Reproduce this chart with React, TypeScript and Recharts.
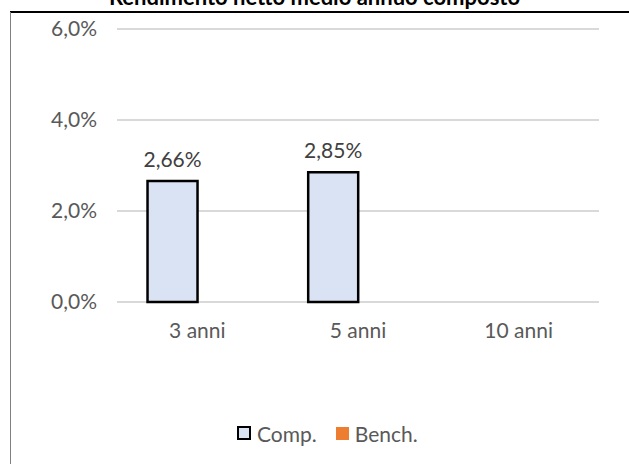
import React from 'react';
import { BarChart, Bar, XAxis, YAxis, CartesianGrid, Legend, LabelList } from 'recharts';

const categories = ['3 anni', '5 anni', '10 anni'];
const compValues = [2.66, 2.85, null];
const benchValues = [null, null, null];
const yTicks = [0, 2, 4, 6];
const seriesOrder = ['comp', 'bench'];

const chartData = categories.map((name, i) => ({
  name,
  comp: compValues[i],
  bench: benchValues[i],
}));

const FONT = 'Lato, "Liberation Sans", sans-serif';
const TEXT = '#595959';

const fmtAxis = (v: number) => `${v.toFixed(1).replace('.', ',')}%`;
const fmtLabel = (v: any) => (v == null ? '' : `${Number(v).toFixed(2).replace('.', ',')}%`);

const renderLegend = (props: any) => {
  const payload = [...(props.payload || [])].sort(
    (a: any, b: any) => seriesOrder.indexOf(a.dataKey) - seriesOrder.indexOf(b.dataKey)
  );
  return (
    <div style={{ display: 'flex', justifyContent: 'flex-start', alignItems: 'center', height: 50, paddingBottom: 12, paddingLeft: 237, boxSizing: 'border-box', fontFamily: FONT, fontSize: 21, color: TEXT }}>
      {payload.map((p: any) => (
        <div key={p.value} style={{ display: 'flex', alignItems: 'center', marginRight: 19 }}>
          <span
            style={{
              display: 'inline-block',
              width: p.dataKey === 'comp' ? 10 : 13,
              height: p.dataKey === 'comp' ? 10 : 13,
              background: p.color,
              border: p.dataKey === 'comp' ? '2.5px solid #000' : 'none',
              marginRight: 6,
            }}
          />
          <span>{p.value}</span>
        </div>
      ))}
    </div>
  );
};

export default function App() {
  return (
    <div style={{ position: 'absolute', left: 0, top: 0, width: 629, height: 464, overflow: 'hidden', background: '#fff' }}>
      <div
        style={{
          position: 'absolute',
          left: 0,
          width: 629,
          top: -16,
          textAlign: 'center',
          fontFamily: FONT,
          fontWeight: 'bold',
          fontSize: 22,
          lineHeight: '26px',
          color: '#000',
          whiteSpace: 'nowrap',
        }}
      >
        Rendimento netto medio annuo composto
      </div>
      <div style={{ position: 'absolute', left: 10, top: 11, width: 619, height: 2, background: '#000' }} />
      <div style={{ position: 'absolute', left: 10, top: 12, width: 1, height: 452, background: '#808080' }} />
      <div style={{ position: 'absolute', left: 0, top: 0 }}>
        <BarChart
          width={629}
          height={464}
          data={chartData}
          margin={{ top: 29, right: 30, left: 0, bottom: 0 }}
          barCategoryGap="19%"
          barGap={0}
        >
          <CartesianGrid vertical={false} stroke="#d9d9d9" strokeWidth={2} />
          <XAxis
            dataKey="name"
            axisLine={false}
            tickLine={false}
            tickSize={0}
            tickMargin={21}
            height={112}
            tick={{ fill: TEXT, fontSize: 21, fontFamily: FONT }}
          />
          <YAxis
            width={117}
            domain={[0, 6]}
            ticks={yTicks}
            tickFormatter={fmtAxis}
            axisLine={false}
            tickLine={false}
            tickSize={0}
            tickMargin={20}
            tick={{ fill: TEXT, fontSize: 21, fontFamily: FONT }}
          />
          <Legend verticalAlign="bottom" content={renderLegend} />
          <Bar dataKey="comp" name="Comp." fill="#DAE3F3" stroke="#000" strokeWidth={2.5} isAnimationActive={false}>
            <LabelList dataKey="comp" position="top" offset={14} formatter={fmtLabel} fill="#404040" fontSize={21} fontFamily={FONT} />
          </Bar>
          <Bar dataKey="bench" name="Bench." fill="#ED7D31" isAnimationActive={false} />
        </BarChart>
      </div>
    </div>
  );
}
